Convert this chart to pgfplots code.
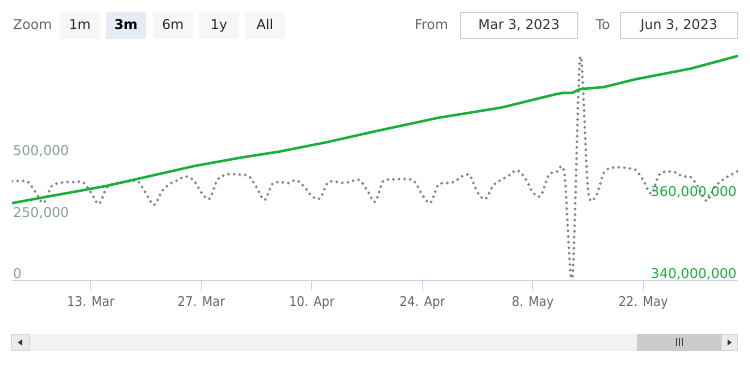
\documentclass[border=0pt]{standalone}
\usepackage{pgfplots}
\pgfplotsset{compat=1.18}
\usepackage{fontspec}
\setmainfont{DejaVu Sans}
\newfontfamily\condfont{DejaVu Sans Condensed}
\definecolor{grn}{HTML}{1AAF3C}
\definecolor{dotc}{HTML}{7A8A8A}
\definecolor{dotlab}{HTML}{8E9C9C}
\definecolor{axc}{HTML}{CCD6EB}
\definecolor{txt}{HTML}{666666}
\definecolor{btn}{HTML}{F7F7F7}
\definecolor{btnsel}{HTML}{E6EBF5}
\definecolor{boxc}{HTML}{CCCCCC}

\pgfplotstableread{
day value
0 406000
1 406000
2 404000
3 360000
4 317000
5 385000
6 398000
7 402000
8 402000
9 402000
10 360000
11 313000
12 380000
13 396000
14 402000
15 406000
16 404000
17 355000
18 309000
19 365000
20 395000
21 410000
22 425000
23 410000
24 360000
25 333000
26 410000
27 432000
28 435000
29 432000
30 427000
31 380000
32 329000
33 395000
34 402000
35 398000
36 410000
37 385000
38 345000
39 335000
40 400000
41 404000
42 398000
43 405000
44 411000
45 370000
46 321000
47 405000
48 412000
49 414000
50 415000
51 405000
52 350000
53 317000
54 390000
55 398000
56 402000
57 425000
58 430000
59 360000
60 333000
61 390000
62 411000
63 430000
64 450000
65 420000
66 360000
67 346000
68 430000
69 443000
70 438000
71 5000
72 910000
73 370000
74 345000
75 440000
76 460000
77 462000
78 458000
79 452000
80 410000
81 354000
82 432000
83 445000
84 442000
85 425000
86 423000
87 380000
88 325000
89 380000
90 410000
91 430000
92 447000
}\dottable

\pgfplotstableread{
day value
0 359000000
12 363200000
23 368000000
29 370100000
34 371600000
40 373900000
46 376500000
54 379800000
62 382300000
69 385600000
70 385900000
71 385900000
72 386800000
75 387300000
79 389200000
86 391800000
92 394900000
}\greentable

\begin{document}
\begin{tikzpicture}[x=1pt,y=1pt]
\path[fill=white,use as bounding box] (0,0) rectangle (750,375);
% range selector
\node[anchor=base west,text=txt,font=\fontsize{13.5}{16}\selectfont,inner sep=0pt] at (13,345) {Zoom};
\foreach \a/\b/\t in {60/100/1m,153/193/6m,199/239/1y,245/285/All}{
  \fill[btn,rounded corners=2pt] (\a,336) rectangle (\b,363);
  \node[anchor=base,text=black!85,font=\fontsize{13.5}{16}\selectfont,inner sep=0pt] at ({(\a+\b)/2},345) {\t};
}
\fill[btnsel,rounded corners=2pt] (106,336) rectangle (146,363);
\node[anchor=base,text=black,font=\fontsize{13.5}{16}\selectfont\bfseries,inner sep=0pt] at (126,345) {3m};
\node[anchor=base,text=txt,font=\fontsize{13.5}{16}\selectfont,inner sep=0pt] at (431.5,345) {From};
\draw[boxc,fill=white] (460.5,336.5) rectangle (577.5,362.5);
\node[anchor=base,text=black!80,font=\fontsize{13.5}{16}\selectfont,inner sep=0pt] at (519,345) {Mar 3, 2023};
\node[anchor=base,text=txt,font=\fontsize{13.5}{16}\selectfont,inner sep=0pt] at (603,345) {To};
\draw[boxc,fill=white] (620.5,336.5) rectangle (737.5,362.5);
\node[anchor=base,text=black!80,font=\fontsize{13.5}{16}\selectfont,inner sep=0pt] at (679,345) {Jun 3, 2023};

% left axis (dotted series)
\begin{axis}[
  at={(12pt,94pt)}, anchor=south west, scale only axis,
  width=726pt, height=231pt,
  xmin=0, xmax=92, ymin=0, ymax=939000,
  axis line style={draw=none},
  xtick={10,24,38,52,66,80},
  xticklabels={13. Mar,27. Mar,10. Apr,24. Apr,8. May,22. May},
  xtick pos=bottom, xtick align=outside,
  major tick length=10pt,
  xtick style={axc, line width=1pt},
  xticklabel style={font=\condfont\fontsize{13.5}{16}\selectfont, text=txt, yshift=-1.5pt},
  ytick={0,250000,500000},
  yticklabels={0,{250,000},{500,000}},
  ytick align=inside, ytick pos=left,
  ytick style={draw=none},
  yticklabel style={anchor=base west, inner sep=0pt, xshift=1pt, yshift=2pt, font=\fontsize{13.5}{16}\selectfont, text=dotlab},
  scaled y ticks=false,
  after end axis/.code={\draw[axc,line width=1pt] (rel axis cs:0,0) -- (rel axis cs:1,0);},
]
\addplot[dotc, line width=3pt, line cap=round, dash pattern=on 0pt off 5.6pt, smooth, tension=0.5] table[x=day,y=value] {\dottable};
\end{axis}

% right axis (green series)
\begin{axis}[
  at={(12pt,94pt)}, anchor=south west, scale only axis,
  width=726pt, height=231pt,
  xmin=0, xmax=92, ymin=340000000, ymax=396340000,
  axis line style={draw=none},
  xtick=\empty,
  ytick={340000000,360000000},
  yticklabels={{340,000,000},{360,000,000}},
  ytick align=inside, ytick pos=right,
  ytick style={draw=none},
  yticklabel style={anchor=base east, inner sep=0pt, xshift=-1pt, yshift=2pt, font=\fontsize{13.5}{16}\selectfont, text=grn},
  scaled y ticks=false,
]
\addplot[grn, line width=2.5pt] table[x=day,y=value] {\greentable};
\end{axis}

% scrollbar
\fill[black!5] (11,24) rectangle (738,41);
\draw[boxc!80,fill=black!8] (11.5,24.5) rectangle (29.5,40.5);
\fill[black!80] (22,29.5) -- (18,32.5) -- (22,35.5) -- cycle;
\fill[boxc] (637,24) rectangle (721,41);
\foreach \gx in {676,679,682}{\draw[black!75,line width=0.9pt] (\gx,28.5) -- (\gx,36.5);}
\draw[boxc!80,fill=black!8] (721.5,24.5) rectangle (737.5,40.5);
\fill[black!80] (727.5,29.5) -- (731.5,32.5) -- (727.5,35.5) -- cycle;
\end{tikzpicture}
\end{document}
